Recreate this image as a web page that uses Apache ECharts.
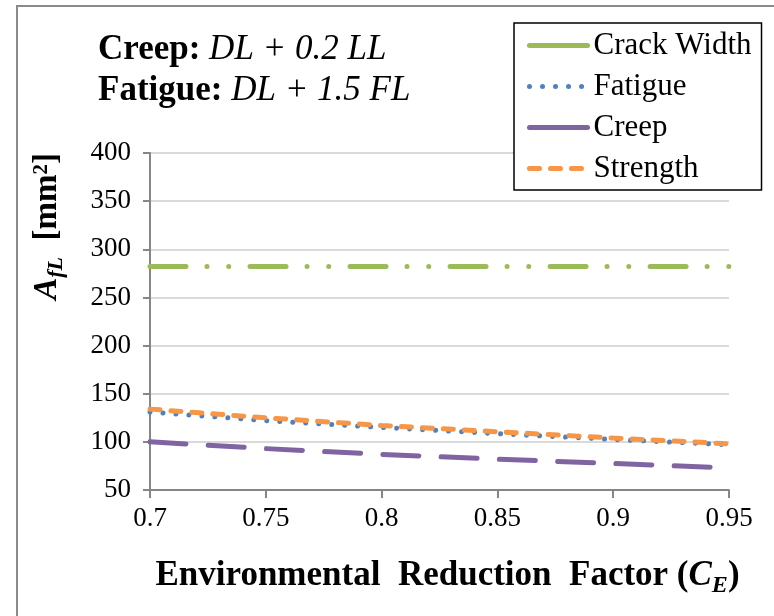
<!DOCTYPE html>
<html>
<head>
<meta charset="utf-8">
<script src="https://cdn.jsdelivr.net/npm/echarts@6/dist/echarts.min.js"></script>
<style>
  html, body { margin: 0; padding: 0; background: #fff; }
  #chart { width: 774px; height: 616px; }
</style>
</head>
<body>
<div id="chart"></div>
<script>
// Environmental reduction factor C_E on the x axis
const ceValues = [0.7, 0.75, 0.8, 0.85, 0.9, 0.95];

// Required FRP area A_fL [mm²] for each design check
const crackWidth = [282, 282, 282, 282, 282, 282];
const fatigue    = [131, 122, 115, 108.5, 102.5, 97];
const creep      = [100, 93, 87, 82, 77.5, 73];
const strength   = [134, 125, 117, 110.5, 104, 98];

const seriesNames = ['Crack Width', 'Fatigue', 'Creep', 'Strength'];

const serif = 'Liberation Serif, Times New Roman, serif';

function pairs(ys) {
  return ceValues.map((x, i) => [x, ys[i]]);
}

const chart = echarts.init(document.getElementById('chart'), null, { renderer: 'canvas' });

// legend swatches are plain strokes, no marker in the middle
const noMarker = { opacity: 0 };

chart.setOption({
  backgroundColor: '#ffffff',
  animation: false,
  grid: { left: 150, right: 45, top: 153, bottom: 126, containLabel: false },
  xAxis: {
    type: 'value',
    min: 0.7,
    max: 0.95,
    interval: 0.05,
    axisLine: { show: true, lineStyle: { color: '#868686', width: 2 } },
    axisTick: { show: true, inside: false, length: 8, lineStyle: { color: '#868686', width: 2 } },
    splitLine: { show: false },
    axisLabel: {
      color: '#000', fontFamily: serif, fontSize: 27, margin: 15,
      formatter: v => String(Math.round(v * 100) / 100)
    },
    name: '{b|Environmental  Reduction  Factor (}{bi|C}{sub|E}{b|)}',
    nameLocation: 'middle',
    nameGap: 68,
    nameTextStyle: {
      padding: [0, 0, 0, 16],
      rich: {
        b:   { fontFamily: serif, fontWeight: 'bold', fontSize: 35, color: '#000', verticalAlign: 'top', lineHeight: 42 },
        bi:  { fontFamily: serif, fontWeight: 'bold', fontStyle: 'italic', fontSize: 35, color: '#000', verticalAlign: 'top', lineHeight: 42 },
        sub: { fontFamily: serif, fontWeight: 'bold', fontStyle: 'italic', fontSize: 24, color: '#000', verticalAlign: 'top', lineHeight: 29, padding: [16, 0, 0, 0] }
      }
    }
  },
  yAxis: {
    type: 'value',
    min: 50,
    max: 400,
    interval: 50,
    axisLine: { show: true, lineStyle: { color: '#868686', width: 2 } },
    axisTick: { show: true, inside: false, length: 7, lineStyle: { color: '#868686', width: 2 } },
    splitLine: { show: true, lineStyle: { color: '#d9d9d9', width: 2 } },
    axisLabel: { color: '#000', fontFamily: serif, fontSize: 27, margin: 19 },
    name: '{ai|A}{sub|fL}{b|  [mm}{sup|2}{b|]}',
    nameLocation: 'middle',
    nameRotate: 90,
    nameGap: 80,
    nameTextStyle: {
      padding: [0, 0, 0, 190],
      rich: {
        ai:  { fontFamily: serif, fontWeight: 'bold', fontStyle: 'italic', fontSize: 33, color: '#000', verticalAlign: 'top', lineHeight: 39 },
        b:   { fontFamily: serif, fontWeight: 'bold', fontSize: 33, color: '#000', verticalAlign: 'top', lineHeight: 39 },
        sub: { fontFamily: serif, fontWeight: 'bold', fontStyle: 'italic', fontSize: 22, color: '#000', verticalAlign: 'top', lineHeight: 26, padding: [14, 0, 0, 0] },
        sup: { fontFamily: serif, fontWeight: 'bold', fontSize: 21, color: '#000', verticalAlign: 'top', lineHeight: 24 }
      }
    }
  },
  legend: {
    orient: 'vertical',
    left: 514,
    top: 23,
    padding: [2, 10, 1, 13],
    itemWidth: 58,
    itemHeight: 14,
    itemGap: 0,
    borderColor: '#000',
    borderWidth: 1.5,
    backgroundColor: '#fff',
    textStyle: { fontFamily: serif, fontSize: 31, color: '#000', lineHeight: 41, padding: [0, 0, 0, 1] },
    data: [
      { name: 'Crack Width', itemStyle: noMarker, lineStyle: { type: 'solid', width: 5, cap: 'round' } },
      { name: 'Fatigue',     itemStyle: noMarker, lineStyle: { type: [0.01, 13], width: 5, cap: 'round' } },
      { name: 'Creep',       itemStyle: noMarker, lineStyle: { type: 'solid', width: 5, cap: 'round' } },
      { name: 'Strength',    itemStyle: noMarker, lineStyle: { type: [10, 11], width: 5, cap: 'round' } }
    ]
  },
  graphic: [
    {
      type: 'rect',
      shape: { x: 17, y: 6, width: 800, height: 660 },
      style: { fill: 'none', stroke: '#8a8a8a', lineWidth: 2 },
      silent: true
    },
    {
      type: 'text',
      left: 98,
      top: 32,
      style: {
        text: '{b|Creep:}{i| DL + 0.2 LL}\n{b|Fatigue:}{i| DL + 1.5 FL}',
        rich: {
          b: { fontFamily: serif, fontWeight: 'bold', fontSize: 35, color: '#000', lineHeight: 41 },
          i: { fontFamily: serif, fontStyle: 'italic', fontSize: 35, color: '#000', lineHeight: 41 }
        }
      }
    }
  ],
  series: [
    {
      name: seriesNames[0], type: 'line', data: pairs(crackWidth), symbol: 'none',
      itemStyle: { color: '#9bbb59' },
      lineStyle: { color: '#9bbb59', width: 5, cap: 'round', type: [36, 21, 0.01, 21.7, 0.01, 21.3] },
      z: 2
    },
    {
      name: seriesNames[1], type: 'line', data: pairs(fatigue), symbol: 'none',
      itemStyle: { color: '#4f81bd' },
      lineStyle: { color: '#4f81bd', width: 5, cap: 'round', type: [0.01, 13] },
      z: 3
    },
    {
      name: seriesNames[2], type: 'line', data: pairs(creep), symbol: 'none',
      itemStyle: { color: '#8064a2' },
      lineStyle: { color: '#8064a2', width: 5, cap: 'round', type: [36, 22.3] },
      z: 4
    },
    {
      name: seriesNames[3], type: 'line', data: pairs(strength), symbol: 'none',
      itemStyle: { color: '#f79646' },
      lineStyle: { color: '#f79646', width: 5, cap: 'round', type: [10, 11] },
      z: 5
    }
  ]
});
</script>
</body>
</html>
